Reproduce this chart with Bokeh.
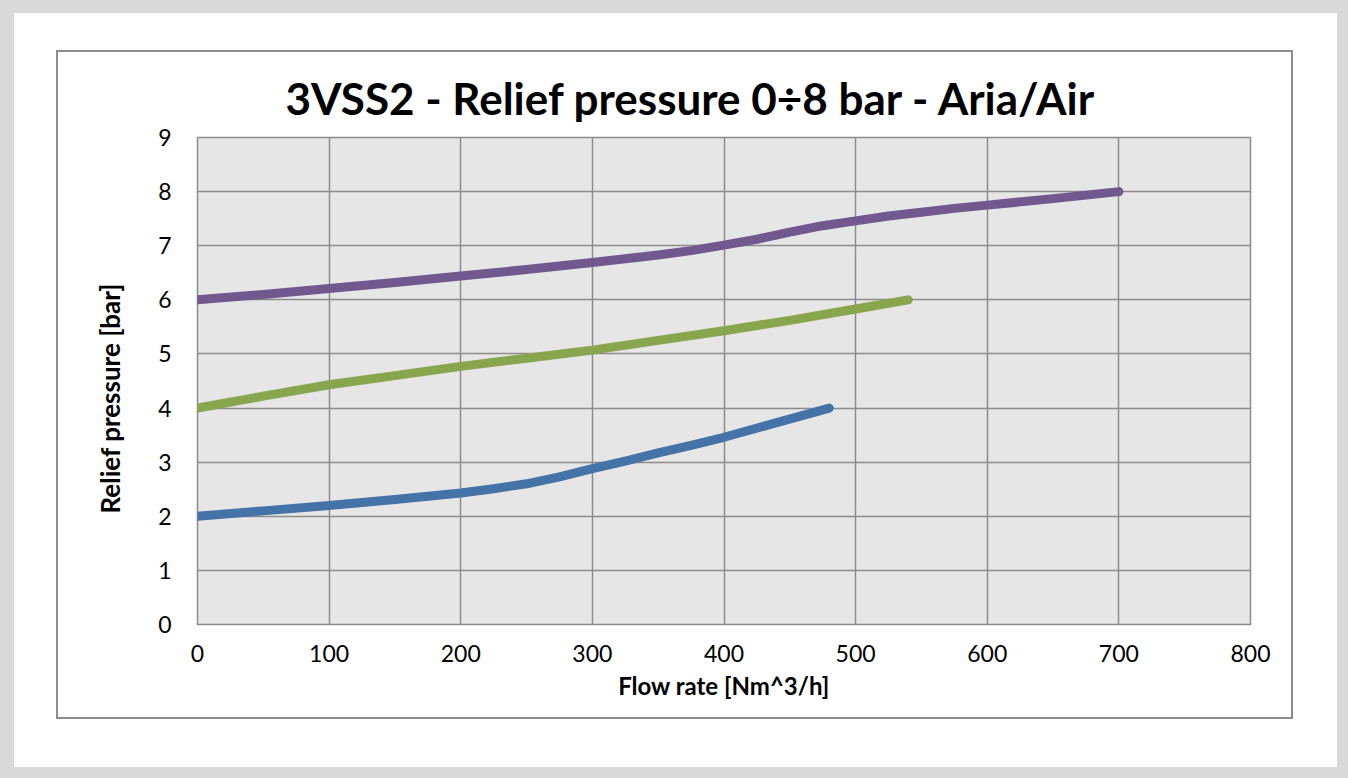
from bokeh.plotting import figure
from bokeh.models import Range1d, FixedTicker, Title
from bokeh.layouts import column
from bokeh.embed import file_html
from bokeh.resources import INLINE

# Data
flow_blue = [0, 50, 100, 150, 200, 225, 250, 275, 300, 325, 350, 375, 400, 440, 480]
pres_blue = [2.0, 2.1, 2.2, 2.31, 2.43, 2.51, 2.6, 2.73, 2.88, 3.02, 3.17, 3.31, 3.46, 3.73, 4.0]

flow_green = [0, 50, 100, 150, 200, 250, 300, 350, 400, 450, 500, 540]
pres_green = [4.0, 4.22, 4.43, 4.6, 4.77, 4.92, 5.07, 5.25, 5.43, 5.62, 5.83, 6.0]

flow_purple = [0, 50, 100, 150, 200, 250, 300, 350, 375, 400, 425, 450, 475, 500, 525, 550, 575, 600, 650, 700]
pres_purple = [6.0, 6.1, 6.21, 6.32, 6.44, 6.56, 6.69, 6.83, 6.91, 7.01, 7.12, 7.25, 7.37, 7.46, 7.55, 7.62, 7.69, 7.75, 7.87, 8.0]

x_ticks = [0, 100, 200, 300, 400, 500, 600, 700, 800]
y_ticks = [0, 1, 2, 3, 4, 5, 6, 7, 8, 9]

TITLE = "3VSS2 - Relief pressure 0÷8 bar - Aria/Air"
XLABEL = "Flow rate [Nm^3/h]"
YLABEL = "Relief pressure [bar]"

FONT = "Lato"
GRID = "#8c8c8c"

p = figure(width=1237, height=669, output_backend="svg", toolbar_location=None,
           x_range=Range1d(0, 800), y_range=Range1d(0, 9),
           min_border_left=139, min_border_right=45, min_border_top=85, min_border_bottom=97)
p.styles = {"border": "2px solid #8c8c8c"}
p.background_fill_color = "#e6e6e6"
p.border_fill_color = "white"
p.outline_line_color = GRID
p.outline_line_width = 1.5

t = Title(text=TITLE, align="left", text_font=FONT, text_font_size="44px",
          text_font_style="bold", text_color="black", offset=88, standoff=28)
p.add_layout(t, "above")

for ax in (p.xaxis[0], p.yaxis[0]):
    ax.axis_line_color = None
    ax.major_tick_line_color = None
    ax.minor_tick_line_color = None
    ax.major_label_text_font = FONT
    ax.major_label_text_font_size = "23px"
    ax.major_label_text_color = "black"
    ax.axis_label_text_font = FONT
    ax.axis_label_text_font_style = "bold"
    ax.axis_label_text_color = "black"

p.xaxis.axis_label_text_font_size = "24px"
p.xaxis.ticker = FixedTicker(ticks=x_ticks)
p.yaxis.ticker = FixedTicker(ticks=y_ticks)
p.xaxis.axis_label = XLABEL
p.xaxis.major_label_standoff = 14
p.yaxis.major_label_standoff = 20
p.xaxis.axis_label_standoff = 6

ytitle = Title(text=YLABEL, align="left", offset=111, standoff=60,
               text_font=FONT, text_font_size="26px", text_font_style="bold",
               text_color="black")
p.add_layout(ytitle, "left")

p.xgrid.ticker = FixedTicker(ticks=x_ticks)
p.ygrid.ticker = FixedTicker(ticks=y_ticks)
p.grid.grid_line_color = GRID
p.grid.grid_line_width = 1.5

for xs, ys, c in ((flow_blue, pres_blue, "#4572A7"),
                  (flow_green, pres_green, "#89A54E"),
                  (flow_purple, pres_purple, "#71588F")):
    p.line(xs, ys, line_color=c, line_width=9, line_cap="round", line_join="round")

inner = column(p, styles={"background-color": "white", "padding": "37px 44px 48px 42px"})
outer = column(inner, styles={"background-color": "#d9d9d9", "padding": "13px 12px 12px 14px"})

open("out.html", "w").write(file_html(outer, INLINE))
